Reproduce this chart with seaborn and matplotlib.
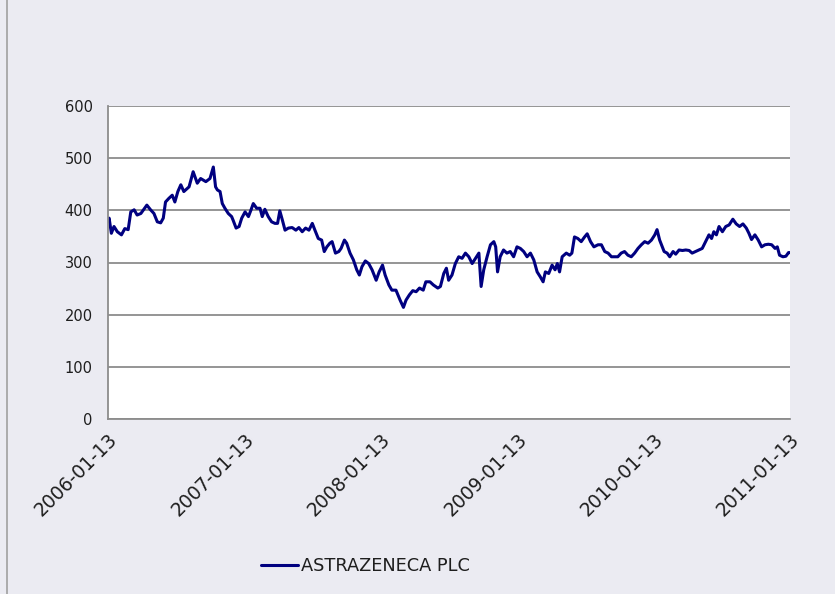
import pandas as pd
import seaborn as sns
import matplotlib.pyplot as plt
import matplotlib.dates as mdates
from matplotlib.lines import Line2D

# days since 2006-01-13 and closing price
days = [0, 3, 9, 16, 25, 36, 45, 54, 61, 70, 78, 88, 104, 114, 123, 132, 141, 148,
        154, 163, 172, 179, 187, 195, 203, 217, 228, 239, 248, 262, 273, 282, 288,
        293, 300, 306, 313, 322, 331, 335, 343, 351, 358, 367, 376, 383, 389, 398,
        407, 413, 420, 429, 438, 447, 454, 460, 467, 474, 483, 493, 503, 511, 520,
        529, 538, 547, 554, 563, 572, 579, 586, 594, 600, 609, 618, 624, 633, 639,
        648, 657, 666, 673, 680, 689, 698, 707, 718, 726, 735, 742, 752, 760, 771,
        782, 791, 798, 807, 816, 825, 834, 844, 851, 862, 871, 883, 890, 899, 906,
        912, 921, 930, 939, 948, 957, 966, 975, 984, 993, 999, 1006, 1015, 1024,
        1033, 1038, 1043, 1050, 1059, 1068, 1077, 1086, 1095, 1104, 1113, 1122,
        1131, 1140, 1149, 1157, 1165, 1171, 1180, 1189, 1197, 1203, 1209, 1216,
        1227, 1236, 1242, 1249, 1258, 1267, 1276, 1283, 1292, 1301, 1312, 1321,
        1330, 1339, 1348, 1357, 1365, 1374, 1383, 1392, 1401, 1410, 1419, 1428,
        1437, 1446, 1455, 1464, 1470, 1477, 1489, 1497, 1504, 1513, 1520, 1529,
        1538, 1547, 1556, 1564, 1573, 1582, 1591, 1600, 1609, 1616, 1622, 1629,
        1636, 1645, 1654, 1663, 1673, 1682, 1691, 1700, 1709, 1716, 1723, 1732,
        1741, 1750, 1759, 1768, 1777, 1786, 1792, 1798, 1807, 1815, 1822, 1826]
price = [380, 385, 356, 369, 359, 353, 365, 363, 397, 401, 391, 394, 410, 401, 394,
         378, 376, 385, 416, 423, 429, 416, 436, 449, 436, 445, 474, 452, 461, 455,
         461, 483, 445, 439, 436, 413, 404, 394, 388, 381, 366, 369, 385, 397, 388,
         401, 413, 404, 404, 388, 402, 388, 378, 375, 375, 399, 381, 362, 366, 367,
         362, 367, 359, 366, 362, 375, 362, 346, 343, 321, 330, 337, 340, 318, 321,
         327, 343, 337, 318, 305, 286, 276, 292, 303, 298, 286, 266, 282, 295, 276,
         257, 247, 247, 228, 214, 228, 238, 246, 244, 251, 247, 263, 263, 257, 251,
         254, 279, 289, 266, 276, 298, 311, 308, 318, 311, 298, 308, 318, 254, 286,
         311, 334, 340, 330, 282, 311, 324, 318, 321, 311, 330, 327, 321, 311, 318,
         305, 282, 273, 263, 282, 279, 295, 286, 298, 282, 311, 318, 314, 318, 349,
         346, 340, 349, 355, 340, 330, 334, 334, 321, 318, 311, 311, 311, 318, 321,
         314, 311, 318, 327, 334, 340, 337, 343, 353, 363, 343, 321, 318, 311, 321,
         316, 324, 323, 324, 323, 318, 321, 324, 327, 340, 353, 346, 359, 353, 369,
         359, 369, 372, 383, 374, 369, 374, 366, 356, 344, 353, 343, 330, 334, 335,
         334, 327, 330, 314, 311, 312, 319, 319]

tick_dates = ["2006-01-13", "2007-01-13", "2008-01-13", "2009-01-13",
              "2010-01-13", "2011-01-13"]
y_ticks = [0, 100, 200, 300, 400, 500, 600]
series_name = "ASTRAZENECA PLC"

start = pd.Timestamp("2006-01-13")
df = pd.DataFrame({"Date": start + pd.to_timedelta(days, unit="D"), "Close": price})

sns.set_style("white")
plt.rcParams["font.family"] = ["DejaVu Sans"]

bg = "#EBEBF2"
navy = "#000080"
grey = "#8C8C8C"
text_col = "#1E1E1E"

fig = plt.figure(figsize=(8.35, 5.94), dpi=100, facecolor=bg)
ax = fig.add_axes([108 / 835, 1 - 419 / 594, 682 / 835, 313 / 594])
ax.set_facecolor("white")

sns.lineplot(data=df, x="Date", y="Close", color=navy, linewidth=2.2, ax=ax,
             legend=False)

ax.set_ylim(0, 600)
ax.set_yticks(y_ticks)
ticks = pd.to_datetime(tick_dates)
ax.set_xlim(ticks[0], ticks[-1])
ax.set_xticks(ticks)
ax.xaxis.set_major_formatter(mdates.DateFormatter("%Y-%m-%d"))

ax.grid(axis="y", color=grey, linewidth=1.3)
ax.grid(axis="x", visible=False)
ax.set_axisbelow(True)
for side in ["top", "right"]:
    ax.spines[side].set_visible(False)
for side in ["left", "bottom"]:
    ax.spines[side].set_color(grey)
    ax.spines[side].set_linewidth(1.3)

ax.tick_params(axis="both", which="major", length=5, width=1.0, color=grey,
               labelcolor=text_col, direction="out")
ax.tick_params(axis="y", labelsize=10.5, pad=6)
ax.tick_params(axis="x", labelsize=13.5, pad=3)
plt.setp(ax.get_xticklabels(), rotation=45, ha="right", rotation_mode="anchor")
ax.set_xlabel("")
ax.set_ylabel("")

handle = Line2D([], [], color=navy, linewidth=2.2)
fig.legend([handle], [series_name], loc="center left",
           bbox_to_anchor=(245 / 835, 1 - 566 / 594), frameon=False,
           fontsize=12.8, handlelength=2.1, handletextpad=0.15,
           labelcolor=text_col)

# outer frame of the chart area
fig.add_artist(Line2D([7 / 835, 7 / 835], [0, 1], transform=fig.transFigure,
                      color="#A0A0A0", linewidth=1.2))

fig.savefig("out.png", dpi=100, facecolor=bg)
